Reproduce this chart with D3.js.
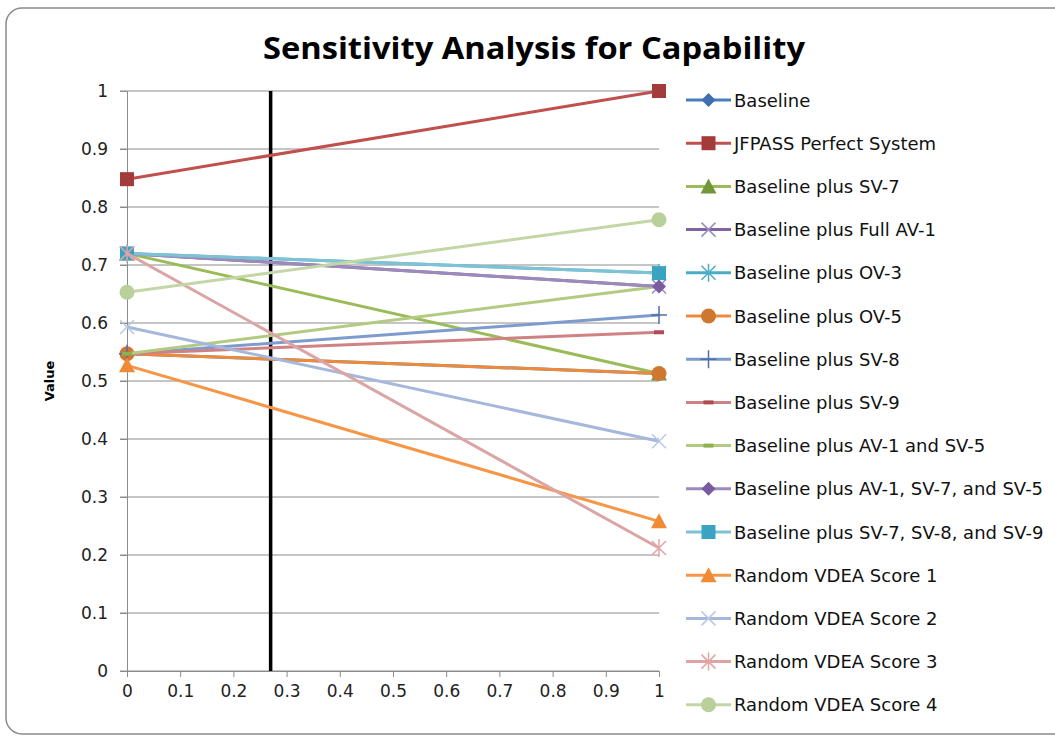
<!DOCTYPE html>
<html>
<head>
<meta charset="utf-8">
<script src="https://cdn.jsdelivr.net/npm/d3@7"></script>
<style>
  html, body { margin: 0; padding: 0; background: #ffffff; }
  svg { display: block; }
</style>
</head>
<body>
<svg id="chart" width="1055" height="737"></svg>
<script>
// Weight settings at both ends of the sweep
const weights = [0, 1];

const seriesNames = [
  "Baseline",
  "JFPASS Perfect System",
  "Baseline plus SV-7",
  "Baseline plus Full AV-1",
  "Baseline plus OV-3",
  "Baseline plus OV-5",
  "Baseline plus SV-8",
  "Baseline plus SV-9",
  "Baseline plus AV-1 and SV-5",
  "Baseline plus AV-1, SV-7, and SV-5",
  "Baseline plus SV-7, SV-8, and SV-9",
  "Random VDEA Score 1",
  "Random VDEA Score 2",
  "Random VDEA Score 3",
  "Random VDEA Score 4"
];

// Capability value at weight 0 and weight 1
const valuesAtZero = [0.547, 0.848, 0.72, 0.72, 0.72, 0.547, 0.547, 0.547, 0.547, 0.72, 0.72, 0.527, 0.593, 0.72, 0.653];
const valuesAtOne  = [0.513, 1.0, 0.513, 0.663, 0.686, 0.513, 0.614, 0.584, 0.663, 0.663, 0.686, 0.258, 0.396, 0.212, 0.778];

const markerShapes = ["diamond", "square", "triangle", "cross", "star", "circle", "plus", "dash",
                      "dash", "diamond", "square", "triangle", "cross", "star", "circle"];

const lineColors = ["#4a7ebb", "#c0504d", "#9bbb59", "#8064a2", "#4bacc6", "#ee8a3c", "#7e9bcd", "#cf8284",
                    "#b3cb80", "#9c8bba", "#7fc2d6", "#f79646", "#a5b8dc", "#dca5a5", "#c3d6a6"];
const markerColors = ["#3f6fb0", "#a23b3a", "#72963a", "#9c8bc0", "#4bacc6", "#d0772f", "#4f6fa8", "#b04a55",
                      "#8fb050", "#7a5ba0", "#3aa3c2", "#f08a36", "#b9c8e6", "#e3a4a8", "#b9d09b"];

const yTicks = [0, 0.1, 0.2, 0.3, 0.4, 0.5, 0.6, 0.7, 0.8, 0.9, 1];
const xTicks = [0, 0.1, 0.2, 0.3, 0.4, 0.5, 0.6, 0.7, 0.8, 0.9, 1];
const crossoverWeight = 0.27;

const svg = d3.select("#chart");
const titleFont = "'Liberation Sans Narrow', 'Open Sans', 'DejaVu Sans', sans-serif";
const bodyFont = "'DejaVu Sans', 'Open Sans', sans-serif";

// Chart frame
svg.append("rect")
  .attr("x", 6).attr("y", 8)
  .attr("width", 1070).attr("height", 726)
  .attr("rx", 16).attr("ry", 16)
  .attr("fill", "#ffffff")
  .attr("stroke", "#8a8a8a")
  .attr("stroke-width", 1.5);

// Title
svg.append("text")
  .attr("x", 534).attr("y", 59)
  .attr("text-anchor", "middle")
  .attr("font-family", titleFont)
  .attr("font-weight", "bold")
  .attr("font-size", 31)
  .attr("textLength", 542)
  .attr("lengthAdjust", "spacingAndGlyphs")
  .attr("fill", "#000")
  .text("Sensitivity Analysis for Capability");

const x = d3.scaleLinear().domain([0, 1]).range([127, 659]);
const y = d3.scaleLinear().domain([0, 1]).range([671, 91]);

// Horizontal gridlines
svg.append("g")
  .selectAll("line")
  .data(yTicks)
  .join("line")
  .attr("x1", x(0) - 7).attr("x2", x(1))
  .attr("y1", d => y(d)).attr("y2", d => y(d))
  .attr("stroke", "#8c8c8c")
  .attr("stroke-width", 1);

// Y axis
const yAxis = svg.append("g")
  .attr("transform", `translate(${x(0)},0)`)
  .call(d3.axisLeft(y).tickValues(yTicks).tickSize(7).tickPadding(12).tickFormat(d3.format("~g")));
yAxis.select(".domain").attr("stroke", "#8c8c8c");
yAxis.selectAll(".tick line").attr("stroke", "#8c8c8c");
yAxis.selectAll("text")
  .attr("font-family", bodyFont)
  .attr("font-size", 17)
  .attr("fill", "#222");

// X axis
const xAxis = svg.append("g")
  .attr("transform", `translate(0,${y(0)})`)
  .call(d3.axisBottom(x).tickValues(xTicks).tickSize(6).tickPadding(8).tickFormat(d3.format("~g")));
xAxis.select(".domain").attr("stroke", "#8c8c8c");
xAxis.selectAll(".tick line").attr("stroke", "#8c8c8c");
xAxis.selectAll("text")
  .attr("font-family", bodyFont)
  .attr("font-size", 17)
  .attr("fill", "#222");

// Y axis title
svg.append("text")
  .attr("transform", `translate(54,${y(0.5)}) rotate(-90)`)
  .attr("text-anchor", "middle")
  .attr("font-family", bodyFont)
  .attr("font-weight", "bold")
  .attr("font-size", 13)
  .attr("fill", "#000")
  .text("Value");

// Crossover weight marker
svg.append("line")
  .attr("x1", x(crossoverWeight)).attr("x2", x(crossoverWeight))
  .attr("y1", y(1)).attr("y2", y(0))
  .attr("stroke", "#000")
  .attr("stroke-width", 3.5);

// Marker drawing
function drawMarker(g, shape, cx, cy, color) {
  const s = g.append("g").attr("transform", `translate(${cx},${cy})`);
  if (shape === "square") {
    s.append("rect").attr("x", -7).attr("y", -7).attr("width", 14).attr("height", 14).attr("fill", color);
  } else if (shape === "diamond") {
    s.append("path").attr("d", "M0,-7L7,0L0,7L-7,0Z").attr("fill", color);
  } else if (shape === "triangle") {
    s.append("path").attr("d", "M0,-8L8,7L-8,7Z").attr("fill", color);
  } else if (shape === "circle") {
    s.append("circle").attr("r", 7.5).attr("fill", color);
  } else if (shape === "cross") {
    s.append("path").attr("d", "M-7,-7L7,7M-7,7L7,-7").attr("stroke", color).attr("stroke-width", 1.5).attr("fill", "none");
  } else if (shape === "star") {
    s.append("path").attr("d", "M-7,-7L7,7M-7,7L7,-7M0,-9L0,9").attr("stroke", color).attr("stroke-width", 1.5).attr("fill", "none");
  } else if (shape === "plus") {
    s.append("path").attr("d", "M0,-9L0,9M-8,0L8,0").attr("stroke", color).attr("stroke-width", 1.5).attr("fill", "none");
  } else if (shape === "dash") {
    s.append("rect").attr("x", -5).attr("y", -2).attr("width", 10).attr("height", 4).attr("fill", color);
  }
}

const line = d3.line().x(d => x(d[0])).y(d => y(d[1]));
const plot = svg.append("g");

seriesNames.forEach((name, i) => {
  const pts = [[weights[0], valuesAtZero[i]], [weights[1], valuesAtOne[i]]];
  const g = plot.append("g");
  g.append("path")
    .attr("d", line(pts))
    .attr("fill", "none")
    .attr("stroke", lineColors[i])
    .attr("stroke-width", 3);
  pts.forEach(p => drawMarker(g, markerShapes[i], x(p[0]), y(p[1]), markerColors[i]));
});

// Legend
const legend = svg.append("g");
seriesNames.forEach((name, i) => {
  const cy = 100 + i * 43.2;
  const g = legend.append("g");
  g.append("line")
    .attr("x1", 686).attr("x2", 731)
    .attr("y1", cy).attr("y2", cy)
    .attr("stroke", lineColors[i])
    .attr("stroke-width", 3);
  drawMarker(g, markerShapes[i], 708.5, cy, markerColors[i]);
  g.append("text")
    .attr("x", 734).attr("y", cy + 6.5)
    .attr("font-family", bodyFont)
    .attr("font-size", 18)
    .attr("fill", "#111")
    .text(name);
});
</script>
</body>
</html>
